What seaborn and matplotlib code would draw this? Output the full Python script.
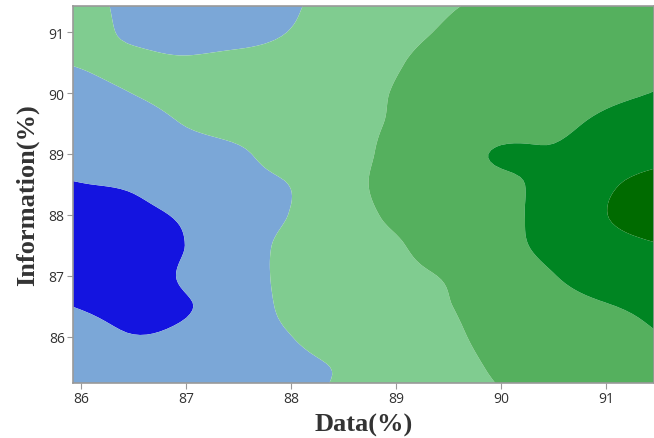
import numpy as np
import matplotlib
matplotlib.use("Agg")
import matplotlib.pyplot as plt
import seaborn as sns

# Grid of the response surface: Data(%) along x, Information(%) along y
data_pct = [85.5, 86.0, 86.5, 87.0, 87.5, 88.0, 88.5, 89.0, 89.5, 90.0, 90.5, 91.0, 91.5]
info_pct = [85.0, 85.5, 86.0, 86.5, 87.0, 87.5, 88.0, 88.5, 89.0, 89.5, 90.0, 90.5, 91.0, 91.5]

# Response value for each Information row (bottom to top), one value per Data column
score_rows = [
    [2.00, 1.80, 1.55, 1.55, 1.65, 1.80, 2.12, 2.30, 2.60, 2.95, 3.20, 3.40, 3.55],  # 85.0
    [1.90, 1.60, 1.35, 1.40, 1.60, 1.82, 2.07, 2.40, 2.70, 3.13, 3.40, 3.60, 3.75],  # 85.5
    [1.60, 1.30, 1.02, 1.15, 1.55, 1.99, 2.35, 2.60, 2.85, 3.29, 3.55, 3.75, 3.97],  # 86.0
    [1.30, 0.95, 0.80, 0.95, 1.45, 2.21, 2.40, 2.60, 2.97, 3.35, 3.65, 3.95, 4.20],  # 86.5
    [0.30, 0.40, 0.60, 1.10, 1.60, 2.23, 2.50, 2.75, 3.08, 3.50, 3.97, 4.50, 4.70],  # 87.0
    [0.30, 0.40, 0.60, 1.01, 1.55, 2.23, 2.55, 2.90, 3.52, 3.75, 4.25, 4.70, 4.97],  # 87.5
    [0.45, 0.60, 0.80, 1.11, 1.50, 2.03, 2.55, 3.19, 3.55, 3.80, 4.30, 4.98, 5.58],  # 88.0
    [0.85, 0.98, 1.10, 1.50, 1.75, 2.02, 2.60, 3.40, 3.65, 3.82, 4.27, 4.85, 5.43],  # 88.5
    [1.20, 1.30, 1.50, 1.70, 1.90, 2.35, 2.60, 3.27, 3.55, 4.10, 4.08, 4.40, 4.65],  # 89.0
    [1.35, 1.50, 1.70, 2.03, 2.25, 2.45, 2.70, 3.09, 3.40, 3.62, 3.85, 4.12, 4.35],  # 89.5
    [1.60, 1.78, 2.01, 2.20, 2.35, 2.45, 2.65, 3.05, 3.40, 3.60, 3.75, 3.90, 4.02],  # 90.0
    [1.90, 2.05, 2.15, 2.10, 2.30, 2.40, 2.60, 2.93, 3.37, 3.60, 3.75, 3.88, 3.98],  # 90.5
    [2.45, 2.25, 1.87, 1.60, 1.62, 2.03, 2.35, 2.75, 3.10, 3.40, 3.60, 3.80, 3.92],  # 91.0
    [2.50, 2.20, 1.83, 1.60, 1.62, 1.90, 2.32, 2.70, 2.92, 3.15, 3.45, 3.65, 3.85],  # 91.5
]

levels = [-1, 1, 2, 3, 4, 5, 7]
band_colors = ["#1414e0", "#7ba7d7", "#80cc90", "#55b05e", "#008522", "#006b00"]

x_ticks = [86, 87, 88, 89, 90, 91]
y_ticks = [86, 87, 88, 89, 90, 91]


def cubic_resample(values, axis, factor):
    """Catmull-Rom resampling of a regular grid along one axis (for smooth contour edges)."""
    v = np.moveaxis(np.asarray(values, dtype=float), axis, 0)
    n = v.shape[0]
    padded = np.concatenate([2 * v[:1] - v[1:2], v, 2 * v[-1:] - v[-2:-1]], axis=0)
    pos = np.linspace(0, n - 1, (n - 1) * factor + 1)
    i = np.clip(np.floor(pos).astype(int), 0, n - 2)
    t = (pos - i).reshape((-1,) + (1,) * (v.ndim - 1))
    p0, p1, p2, p3 = padded[i], padded[i + 1], padded[i + 2], padded[i + 3]
    out = 0.5 * ((2 * p1) + (-p0 + p2) * t + (2 * p0 - 5 * p1 + 4 * p2 - p3) * t ** 2
                 + (-p0 + 3 * p1 - 3 * p2 + p3) * t ** 3)
    return np.moveaxis(out, 0, axis)


sns.set_theme(style="white")

fig = plt.figure(figsize=(6.54, 4.39), dpi=100)
ax = fig.add_axes([73 / 654, 55 / 439, 581 / 654, 377 / 439])

k = 8
xs = cubic_resample(np.array(data_pct), 0, k)
ys = cubic_resample(np.array(info_pct), 0, k)
Z = cubic_resample(cubic_resample(np.array(score_rows), 1, k), 0, k)
X, Y = np.meshgrid(xs, ys)
ax.contourf(X, Y, Z, levels=levels, colors=band_colors, antialiased=True)

ax.set_xlim(85.924, 91.457)
ax.set_ylim(85.24, 91.43)
ax.set_xticks(x_ticks)
ax.set_yticks(y_ticks)
ax.set_xticklabels([str(t) for t in x_ticks])
ax.set_yticklabels([str(t) for t in y_ticks])

for lab in ax.get_xticklabels() + ax.get_yticklabels():
    lab.set_fontfamily("Open Sans")
    lab.set_fontsize(10)
    lab.set_color("#333333")

ax.tick_params(axis="both", which="major", direction="out", length=4, width=0.8,
               color="#999999", bottom=True, left=True, pad=2)

for side in ["left", "bottom", "top", "right"]:
    ax.spines[side].set_color("#999999")
    ax.spines[side].set_linewidth(1.2)

label_font = {"family": "Liberation Serif", "weight": "bold", "size": 19, "color": "#333333"}
ax.set_xlabel("Data(%)", fontdict=label_font, labelpad=5)
ax.set_ylabel("Information(%)", fontdict=label_font, labelpad=7)

fig.savefig("out.png", dpi=100)
